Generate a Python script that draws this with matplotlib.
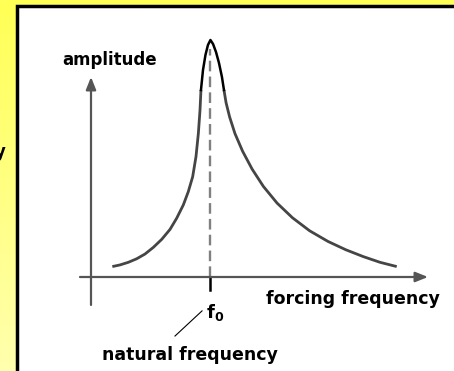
import numpy as np
import matplotlib
matplotlib.use("Agg")
import matplotlib.pyplot as plt
from matplotlib.colors import LinearSegmentedColormap
from matplotlib.patches import Rectangle

# resonance curve, frequency in units of f0, amplitude in arbitrary units
left_f = [0.180, 0.245, 0.315, 0.386, 0.456, 0.526, 0.597, 0.667, 0.723, 0.779,
          0.821, 0.858, 0.886, 0.906, 0.920, 0.928]
left_a = [0.44, 0.51, 0.62, 0.77, 0.97, 1.25, 1.59, 2.01, 2.48, 3.04,
          3.60, 4.23, 5.08, 6.06, 7.05, 7.89]

peak_f = [0.928, 0.945, 0.966, 0.987, 1.008, 1.030, 1.055, 1.080, 1.105, 1.122]
peak_a = [7.89, 8.73, 9.37, 9.79, 10.0, 9.83, 9.49, 9.03, 8.44, 7.89]

right_f = [1.122, 1.140, 1.170, 1.215, 1.280, 1.360, 1.455, 1.570, 1.700, 1.845,
           2.000, 2.150, 2.298, 2.439, 2.580]
right_a = [7.89, 7.35, 6.75, 6.05, 5.30, 4.55, 3.82, 3.12, 2.50, 1.95,
           1.50, 1.15, 0.86, 0.62, 0.44]

f0 = 1.0
x_axis = [-0.093, 2.844]
y_axis = [-1.18, 8.44]

fig = plt.figure(figsize=(4.54, 3.71), dpi=100)

# yellow backdrop with white framed panel
bg = fig.add_axes([0, 0, 1, 1])
bg.axis('off')
cmap = LinearSegmentedColormap.from_list('yel', ['#FFFFAE', '#FFFF55'])
bg.imshow(np.linspace(0, 1, 256).reshape(-1, 1), cmap=cmap, aspect='auto',
          extent=[0, 1, 0, 1], origin='lower')
bg.add_patch(Rectangle((16.8 / 454, -0.1), 1.0, 1.1 - 5.8 / 371,
                       transform=bg.transAxes, fc='white', ec='black', lw=2.5))
bg.set_xlim(0, 1)
bg.set_ylim(0, 1)
bg.text(6 / 454, 1 - 152 / 371, 'y', ha='right', va='center',
        fontsize=12, fontweight='bold', transform=bg.transAxes)

ax = fig.add_axes([0, 0, 1, 1])
ax.axis('off')
ax.set_xlim(-91 / 118.5, (454 - 91) / 118.5)
ax.set_ylim((277 - 371) / 23.7, 277 / 23.7)

axis_col = '#555555'
ax.annotate('', xy=(x_axis[1], 0), xytext=(x_axis[0], 0),
            arrowprops=dict(arrowstyle='-|>,head_length=0.75,head_width=0.3',
                            color=axis_col, lw=1.6, shrinkA=0, shrinkB=0))
ax.annotate('', xy=(0, y_axis[1]), xytext=(0, y_axis[0]),
            arrowprops=dict(arrowstyle='-|>,head_length=0.75,head_width=0.3',
                            color=axis_col, lw=1.6, shrinkA=0, shrinkB=0))

# dashed line at the natural frequency
ax.plot([f0, f0], [0, 9.6], color='#808080', lw=1.7, ls=(0, (4.5, 2.2)))
ax.plot([f0, f0], [-0.55, 0], color='black', lw=1.8)

ax.plot(left_f, left_a, color='#454545', lw=2.0, solid_capstyle='butt')
ax.plot(right_f, right_a, color='#454545', lw=2.0, solid_capstyle='butt')
ax.plot(peak_f, peak_a, color='black', lw=1.8, solid_joinstyle='round')

font = dict(fontweight='bold', family='DejaVu Sans', color='black')
ax.text(0.160, 9.16, 'amplitude', ha='center', va='center', fontsize=12, **font)
ax.text(2.211, -0.93, 'forcing frequency', ha='center', va='center', fontsize=12.5, **font)
ax.text(1.045, -1.48, r'f$_\mathbf{0}$', ha='center', va='center', fontsize=13, **font)
ax.text(0.835, -3.29, 'natural frequency', ha='center', va='center', fontsize=12.5, **font)

# leader from label to f0
ax.plot([0.709, 0.937], [-2.49, -1.43], color='black', lw=0.8)

fig.savefig('out.png', dpi=100)
